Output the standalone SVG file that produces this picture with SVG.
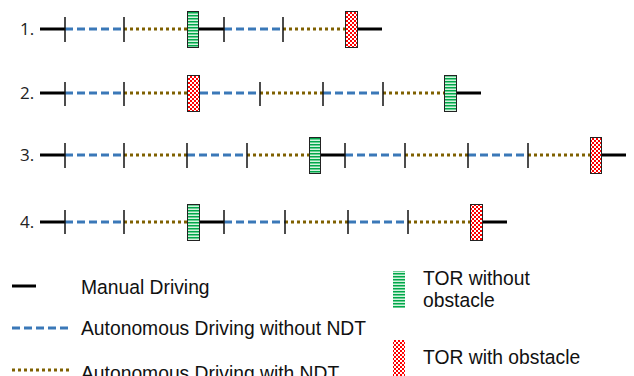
<svg xmlns="http://www.w3.org/2000/svg" width="634" height="376" viewBox="0 0 634 376">
<style>
.m{stroke:#000;stroke-width:3;fill:none}
.a{stroke:#3a78b8;stroke-width:3;stroke-dasharray:8 4;fill:none}
.n{stroke:#7f6000;stroke-width:3;stroke-dasharray:3 3;fill:none}
.t{stroke:#111;stroke-width:1.5}
.g{fill:url(#stripes);stroke:#222;stroke-width:1}
.r{fill:url(#checker);stroke:#222;stroke-width:1}
.num{font-family:"Open Sans","Liberation Sans",sans-serif;font-size:17px;fill:#222}
.lg{font-family:"Liberation Sans",Arial,sans-serif;font-size:19.3px;fill:#111}
</style>
<defs>
<pattern id="stripes" width="4" height="3" patternUnits="userSpaceOnUse">
<rect width="4" height="3" fill="#d4f3de"/>
<rect width="4" height="1.5" fill="#00a84a"/>
</pattern>
<pattern id="checker" width="4" height="4" patternUnits="userSpaceOnUse">
<rect width="4" height="4" fill="#ff0000"/>
<rect width="2" height="2" fill="#fff"/>
<rect x="2" y="2" width="2" height="2" fill="#fff"/>
</pattern>
</defs>

<g id="row1">
<text class="num" x="20" y="35">1.</text>
<line class="m" x1="40" y1="29" x2="65" y2="29"/>
<line class="a" x1="65" y1="29" x2="124" y2="29"/>
<line class="n" x1="124" y1="29" x2="187" y2="29"/>
<line class="m" x1="199" y1="29" x2="224" y2="29"/>
<line class="a" x1="224" y1="29" x2="283" y2="29"/>
<line class="n" x1="283" y1="29" x2="345" y2="29"/>
<line class="m" x1="358" y1="29" x2="382" y2="29"/>
<line class="t" x1="65" y1="17" x2="65" y2="42"/>
<line class="t" x1="124" y1="17" x2="124" y2="42"/>
<line class="t" x1="224" y1="17" x2="224" y2="42"/>
<line class="t" x1="283" y1="17" x2="283" y2="42"/>
<rect class="g" x="187.5" y="11.5" width="11" height="36"/>
<rect class="r" x="345.5" y="11.5" width="12" height="36"/>
</g>

<g id="row2">
<text class="num" x="20" y="99">2.</text>
<line class="m" x1="40" y1="93" x2="65" y2="93"/>
<line class="a" x1="65" y1="93" x2="124" y2="93"/>
<line class="n" x1="124" y1="93" x2="187" y2="93"/>
<line class="a" x1="200" y1="93" x2="260" y2="93"/>
<line class="n" x1="260" y1="93" x2="323" y2="93"/>
<line class="a" x1="323" y1="93" x2="383" y2="93"/>
<line class="n" x1="383" y1="93" x2="444" y2="93"/>
<line class="m" x1="457" y1="93" x2="481" y2="93"/>
<line class="t" x1="65" y1="82" x2="65" y2="106"/>
<line class="t" x1="124" y1="82" x2="124" y2="106"/>
<line class="t" x1="260" y1="82" x2="260" y2="106"/>
<line class="t" x1="323" y1="82" x2="323" y2="106"/>
<line class="t" x1="383" y1="82" x2="383" y2="106"/>
<rect class="r" x="187.5" y="75.5" width="12" height="36"/>
<rect class="g" x="444.5" y="75.5" width="12" height="36"/>
</g>

<g id="row3">
<text class="num" x="20" y="161">3.</text>
<line class="m" x1="40" y1="155" x2="65" y2="155"/>
<line class="a" x1="65" y1="155" x2="124" y2="155"/>
<line class="n" x1="124" y1="155" x2="187" y2="155"/>
<line class="a" x1="187" y1="155" x2="247" y2="155"/>
<line class="n" x1="247" y1="155" x2="309" y2="155"/>
<line class="m" x1="321" y1="155" x2="345" y2="155"/>
<line class="a" x1="345" y1="155" x2="405" y2="155"/>
<line class="n" x1="405" y1="155" x2="468" y2="155"/>
<line class="a" x1="468" y1="155" x2="528" y2="155"/>
<line class="n" x1="528" y1="155" x2="590" y2="155"/>
<line class="m" x1="602" y1="155" x2="626" y2="155"/>
<line class="t" x1="65" y1="143" x2="65" y2="168"/>
<line class="t" x1="124" y1="143" x2="124" y2="168"/>
<line class="t" x1="187" y1="143" x2="187" y2="168"/>
<line class="t" x1="247" y1="143" x2="247" y2="168"/>
<line class="t" x1="345" y1="143" x2="345" y2="168"/>
<line class="t" x1="405" y1="143" x2="405" y2="168"/>
<line class="t" x1="468" y1="143" x2="468" y2="168"/>
<line class="t" x1="528" y1="143" x2="528" y2="168"/>
<rect class="g" x="309.5" y="137.5" width="11" height="36"/>
<rect class="r" x="590.5" y="137.5" width="11" height="36"/>
</g>

<g id="row4">
<text class="num" x="20" y="228">4.</text>
<line class="m" x1="40" y1="222" x2="65" y2="222"/>
<line class="a" x1="65" y1="222" x2="124" y2="222"/>
<line class="n" x1="124" y1="222" x2="187" y2="222"/>
<line class="m" x1="200" y1="222" x2="224" y2="222"/>
<line class="a" x1="224" y1="222" x2="285" y2="222"/>
<line class="n" x1="285" y1="222" x2="348" y2="222"/>
<line class="a" x1="348" y1="222" x2="408" y2="222"/>
<line class="n" x1="408" y1="222" x2="470" y2="222"/>
<line class="m" x1="482" y1="222" x2="507" y2="222"/>
<line class="t" x1="65" y1="210" x2="65" y2="234"/>
<line class="t" x1="124" y1="210" x2="124" y2="234"/>
<line class="t" x1="224" y1="210" x2="224" y2="234"/>
<line class="t" x1="285" y1="210" x2="285" y2="234"/>
<line class="t" x1="348" y1="210" x2="348" y2="234"/>
<line class="t" x1="408" y1="210" x2="408" y2="234"/>
<rect class="g" x="187.5" y="204.5" width="12" height="36"/>
<rect class="r" x="470.5" y="204.5" width="12" height="36"/>
</g>

<g id="legend">
<line class="m" x1="12" y1="286" x2="36" y2="286"/>
<text class="lg" x="81" y="294">Manual Driving</text>
<line class="a" x1="12" y1="328" x2="70" y2="328" style="stroke-dasharray:8 4"/>
<text class="lg" x="81" y="335">Autonomous Driving without NDT</text>
<line class="n" x1="12" y1="370" x2="70" y2="370"/>
<text class="lg" x="81" y="380">Autonomous Driving with NDT</text>
<rect x="393" y="271" width="12" height="37" fill="url(#stripes)"/>
<text class="lg" x="423" y="285">TOR without</text>
<text class="lg" x="423" y="307">obstacle</text>
<rect x="393" y="340" width="12" height="36" fill="url(#checker)"/>
<text class="lg" x="423" y="364">TOR with obstacle</text>
</g>
</svg>
